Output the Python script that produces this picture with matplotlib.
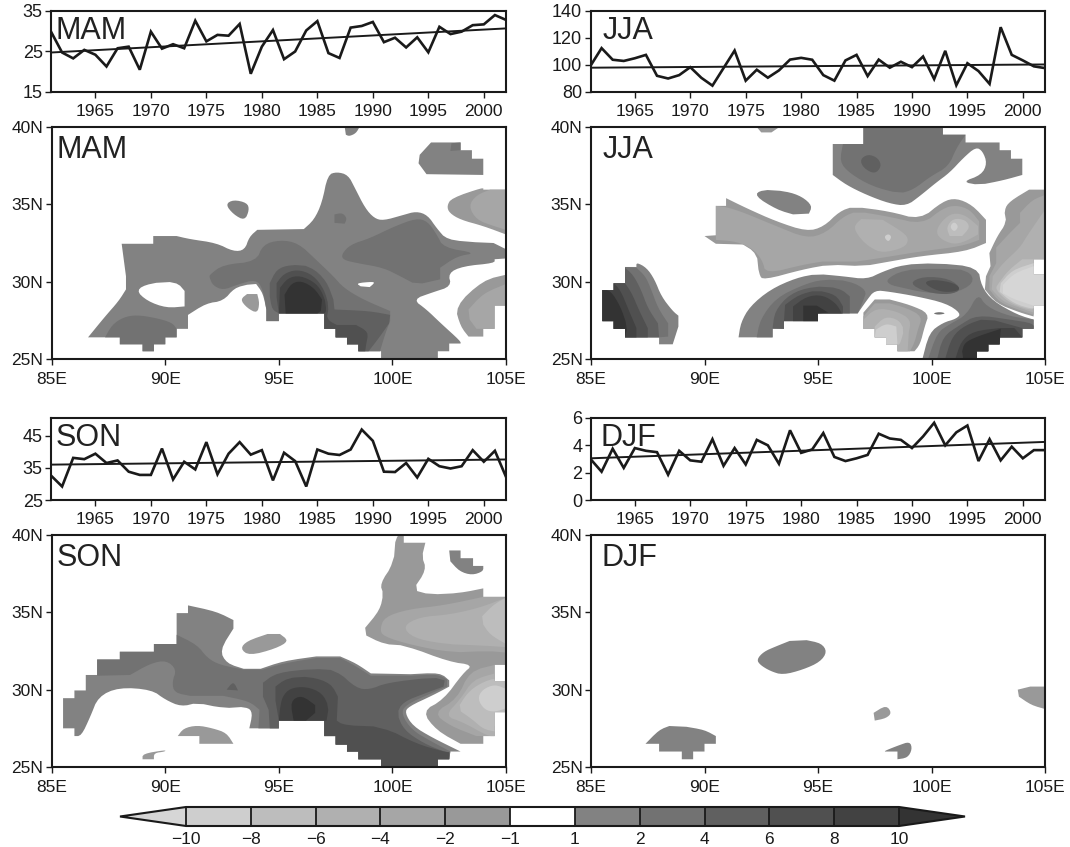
import matplotlib
matplotlib.use("Agg")
import matplotlib.pyplot as plt
from matplotlib.colors import ListedColormap, BoundaryNorm
from matplotlib.cm import ScalarMappable

plt.rcParams["font.family"] = ["Liberation Sans", "DejaVu Sans"]

W, H = 1070, 847

years = list(range(1961, 2003))
mam_series = [29.9, 24.75, 23.3, 25.4, 24.2, 21.3, 25.8, 26.2, 20.5, 29.9, 25.7, 26.8, 25.8, 32.6,
              27.5, 29.1, 28.9, 31.8, 19.5, 26.2, 30.3, 23.1, 25.0, 30.2, 32.5, 24.6, 23.4, 30.9,
              31.3, 32.3, 27.3, 28.4, 26.0, 28.5, 24.8, 31.1, 29.3, 29.9, 31.5, 31.7, 34.0, 32.8]
jja_series = [99.4, 112.5, 103.9, 103, 105, 107.5, 92, 90, 92.5, 98.4, 90.5, 84.7, 97.7, 110.7,
              88.4, 96.5, 90.6, 96, 104, 105.3, 103.9, 92.5, 88.4, 103.4, 107.5, 91.8, 104, 98,
              102.4, 98.4, 106.3, 89.6, 110.5, 85, 101.3, 95.5, 86, 128, 107.5, 103.4, 99, 97.7]
son_series = [32.6, 29.2, 38.1, 37.7, 39.4, 36.5, 37.3, 33.8, 32.8, 32.8, 41, 31.4, 36.9, 34.5,
              43, 33, 39.4, 43, 39.1, 40.5, 31.1, 39.7, 37.1, 29.2, 40.7, 39.4, 39, 40.7,
              46.9, 43.4, 33.8, 33.7, 36.5, 32, 37.8, 35.5, 34.8, 35.5, 40.5, 36.9, 40.3, 32.2]
djf_series = [3.0, 2.07, 3.75, 2.35, 3.8, 3.6, 3.5, 1.85, 3.6, 2.9, 2.8, 4.45, 2.5, 3.8,
              2.6, 4.4, 4.0, 2.65, 5.1, 3.45, 3.7, 4.9, 3.15, 2.85, 3.05, 3.3, 4.85, 4.5,
              4.4, 3.8, 4.65, 5.65, 4.0, 4.95, 5.45, 2.85, 4.45, 2.9, 3.9, 3.05, 3.65, 3.65]

# trend line ends, first and last year
mam_trend = [24.75, 30.7]
jja_trend = [98.0, 100.4]
son_trend = [36.0, 37.6]
djf_trend = [3.05, 4.25]

year_ticks = list(range(1965, 2001, 5))
lon_ticks = [85, 90, 95, 100, 105]
lat_ticks = [25, 30, 35, 40]

# shade per contour class, the key is the class named in the colour bar
shades = {-10: "#d6d6d6", -8: "#cecece", -6: "#bdbdbd", -4: "#b0b0b0", -2: "#a6a6a6", -1: "#999999",
          0: "#ffffff", 1: "#828282", 2: "#727272", 4: "#606060", 6: "#505050", 8: "#424242", 10: "#333333"}
bar_bounds = [-10, -8, -6, -4, -2, -1, 1, 2, 4, 6, 8, 10]
bar_colors = ["#cecece", "#bdbdbd", "#b0b0b0", "#a6a6a6", "#999999", "#ffffff",
              "#828282", "#727272", "#606060", "#505050", "#424242"]

# contour regions: (class, [(lon, lat), ...]), drawn in this order
mam_regions = [
    (1, [(86.6, 26.4), (87.35, 27.75), (87.95, 28.75), (88.27, 29.5), (88.27, 30.35), (88.08, 32.45), (89.47, 32.45),
         (89.47, 32.95), (90.5, 32.95), (91.08, 32.75), (92.25, 32.5), (93.0, 31.95), (93.5, 32.05), (93.7, 32.9),
         (94.05, 33.35), (96.1, 33.4), (96.55, 34.0), (96.9, 35.1), (97.15, 36.9), (97.55, 37.1), (98.05, 36.9),
         (98.35, 36.05), (98.8, 34.75), (99.2, 34.1), (99.6, 33.95), (100.45, 34.3), (101.05, 34.55), (101.55, 34.3),
         (101.95, 33.45), (102.4, 32.7), (103.65, 32.55), (104.45, 32.5), (105, 32.1), (105, 31.5), (104.5, 31.45),
         (104.5, 31.2), (103.1, 31), (102.45, 30.55), (102.6, 29.7), (101.75, 29.3), (100.9, 28.85), (101.5, 28.2),
         (102.1, 27.35), (103, 26.15), (103, 26), (102.5, 26), (102.5, 25.5), (102, 25.5), (102, 25), (99.5, 25),
         (99.5, 25.5), (98.5, 25.5), (98.5, 25.95), (98, 25.95), (98, 26.4), (97.5, 26.4), (97.5, 26.95), (97, 26.95),
         (97, 27.95), (95, 27.95), (95, 27.45), (94.45, 27.45), (94.45, 28.2), (94.3, 29.25), (94, 29.85), (93.6, 29.8),
         (93.05, 29.6), (92.55, 28.75), (91.8, 28.6), (91, 27.85), (91, 26.95), (90.5, 26.95), (90.5, 26.4), (90, 26.4),
         (90, 25.95), (89.5, 25.95), (89.5, 25.5), (89, 25.5), (89, 25.95), (88, 25.95), (88, 26.4)]),
    (0, [(88.7, 29.45), (89.3, 29.9), (90.5, 30), (90.85, 29.4), (90.85, 28.4), (90.05, 28.3), (89.2, 28.75)]),
    (0, [(98.4, 29.9), (99.15, 30), (99.2, 29.9), (99, 29.65), (98.6, 29.7)]),
    (1, [(97.9, 40), (98.55, 40), (98.4, 39.6), (98.1, 39.4), (97.95, 39.5)]),
    (1, [(101.7, 39), (103, 39), (103, 38.5), (103.5, 38.5), (103.5, 37.95), (104, 37.95), (104, 36.9), (101.5, 36.95),
         (101.15, 37.65), (101.2, 38.2)]),
    (2, [(102.6, 38.95), (103, 39), (103, 38.5), (102.55, 38.45)]),
    (1, [(92.65, 35), (93, 35.3), (93.6, 35.1), (93.7, 34.65), (93.5, 33.95), (93, 34.35)]),
    (-1, [(102.4, 34.9), (102.6, 35.4), (104, 36.1), (104, 35.95), (105, 35.95), (105, 33.05), (104, 33.6), (103, 34),
          (102.5, 34.45)]),
    (-2, [(103.35, 34.9), (103.7, 35.6), (104.3, 35.95), (105, 35.95), (105, 33.35), (104.45, 33.6), (103.7, 34)]),
    (-1, [(102.75, 28.4), (104, 30.1), (105, 30.45), (105, 28.45), (104.5, 28.45), (104.5, 26.95), (104, 26.95),
          (104, 26.45), (103.35, 26.45), (103, 27.1)]),
    (-2, [(103.35, 28.2), (104, 29.25), (105, 29.85), (105, 28.45), (104.5, 28.45), (104.5, 26.95), (103.7, 26.95),
          (103.4, 27.55)]),
    (-1, [(93.3, 28.85), (93.6, 29.2), (94.05, 29.2), (94.15, 28.6), (94.05, 27.95), (93.6, 28.3)]),
    (2, [(91.95, 30.45), (92.55, 31.1), (94, 31.3), (94.3, 32.4), (95.05, 32.7), (95.85, 32.5), (96.65, 31.4),
         (97.4, 30.35), (97.85, 29.6), (98.7, 28.85), (99.9, 28.1), (99.9, 27.45), (99.7, 26.7), (99.45, 25.5),
         (98.5, 25.5), (98.5, 25.95), (98, 25.95), (98, 26.4), (97.5, 26.4), (97.5, 26.95), (97, 26.95), (97, 27.95),
         (95, 27.95), (95, 27.45), (94.45, 27.45), (94.45, 28.2), (94.3, 29.5), (94, 30.15), (93.15, 29.8),
         (92.55, 29.45), (92.1, 29.75), (91.95, 30.25)]),
    (2, [(97.75, 31.75), (98.15, 32.4), (99, 32.8), (100.05, 33.55), (101.05, 34.1), (101.55, 33.9), (101.95, 33.05),
         (102.25, 32.2), (103.7, 31.85), (102.85, 31.65), (102.1, 30.9), (102.1, 30.15), (101.05, 29.8), (100.35, 30.35),
         (99.6, 30.9), (98.45, 31.2), (97.85, 31.4)]),
    (2, [(97.45, 34.35), (97.8, 34.45), (98, 34.1), (97.9, 33.75), (97.45, 33.8)]),
    (2, [(87.35, 26.4), (87.65, 27.2), (88.15, 27.7), (88.75, 27.85), (89.6, 27.65), (90.3, 27.35), (90.5, 26.95),
         (90.5, 26.4), (90, 26.4), (90, 25.95), (89.5, 25.95), (89.5, 25.5), (89, 25.5), (89, 25.95), (88, 25.95),
         (88, 26.4)]),
    (4, [(94.6, 29.9), (94.9, 30.8), (95.5, 31.1), (96.4, 31), (97.1, 30.05), (97.4, 28.85), (97.45, 28.2), (99, 28.1),
         (99.9, 27.85), (99.85, 27.3), (99.45, 26.45), (98.95, 25.5), (98.5, 25.5), (98.5, 25.95), (98, 25.95), (98, 26.4),
         (97.5, 26.4), (97.5, 26.95), (97, 26.95), (97, 27.95), (95, 27.95), (94.7, 28.2), (94.6, 29.05)]),
    (6, [(94.9, 29.9), (95.2, 30.5), (95.8, 30.8), (96.5, 30.45), (97, 29.5), (97.2, 28.4), (97.1, 27.55), (97.55, 27.2),
         (98.4, 27.2), (98.95, 26.75), (98.85, 26), (98.8, 25.5), (98.5, 25.5), (98.5, 25.95), (98, 25.95), (98, 26.4),
         (97.5, 26.4), (97.5, 26.95), (97, 26.95), (97, 27.95), (95, 27.95), (94.9, 29)]),
    (8, [(95.05, 29.6), (95.4, 30.25), (95.95, 30.4), (96.65, 29.9), (97, 29.05), (97.1, 28.1), (97, 27.95), (95, 27.95)]),
    (10, [(95.25, 29.15), (95.55, 29.9), (96, 30.05), (96.55, 29.6), (96.9, 28.85), (96.85, 28.1), (96.7, 27.95),
          (95.3, 27.95)]),
]

jja_regions = [
    (-1, [(92.3, 40), (93.3, 40), (92.95, 39.65), (92.5, 39.65)]),
    (1, [(95.65, 38.9), (97, 38.9), (97, 40), (100.5, 40), (100.5, 39.5), (101.5, 39.5), (101.5, 39), (103, 39), (103, 38.5),
         (103.5, 38.5), (103.5, 37.95), (104, 37.95), (104, 36.9), (103.15, 36.55), (102.1, 36.25), (101.35, 36.45),
         (102.2, 36.9), (102.45, 37.65), (102.25, 38.45), (101.95, 38.7), (101.4, 38), (100.8, 37.05), (100.2, 36.4),
         (99.5, 35.55), (98.9, 34.9), (98.15, 35.05), (97.15, 35.6), (96.25, 36.25), (95.65, 36.9), (95.65, 38.05)]),
    (2, [(96.1, 38.9), (97, 38.9), (97, 40), (100.5, 40), (100.5, 39.5), (101.5, 39.5), (101.1, 38.65), (100.75, 37.45),
         (99.95, 36.8), (99.2, 35.95), (98.6, 35.7), (97.4, 36.15), (96.4, 37), (95.95, 37.75)]),
    (4, [(96.85, 37.9), (97.2, 38.25), (97.65, 38), (97.8, 37.45), (97.5, 36.95), (97, 37.35)]),
    (1, [(92.2, 35.55), (92.5, 35.95), (93.6, 35.85), (94.3, 35.5), (94.75, 34.9), (94.6, 34.4), (93.9, 34.35),
         (93.2, 34.65)]),
    (-1, [(90.5, 34.9), (90.95, 34.9), (90.95, 35.4), (91.85, 34.75), (93.15, 33.9), (94.5, 33.25), (95.25, 33.55),
          (95.95, 34.55), (96.55, 34.85), (98.15, 34.55), (99.5, 34), (100.5, 35.2), (101.1, 35.4), (101.8, 34.95),
          (102.4, 34), (102.4, 32.5), (101.5, 31.95), (99.5, 31.65), (98.15, 31.3), (97, 31), (95.5, 31.1), (94.35, 30.8),
          (92.6, 30.1), (92.4, 30.45), (92.3, 31.85), (91.7, 32.4), (90.5, 32.45), (90, 32.95), (90.5, 33)]),
    (-2, [(90.5, 34.9), (91.25, 34.75), (93.15, 33.6), (94.5, 32.8), (95.35, 33.15), (96.1, 34.2), (96.7, 34.55),
          (98.15, 34.2), (99.6, 33.7), (100.5, 34.75), (101.1, 34.95), (101.7, 34.65), (102.1, 33.9), (102.1, 32.7),
          (101.35, 32.3), (99.5, 31.95), (97.85, 31.55), (96.7, 31.3), (95.2, 31.3), (94.35, 31.1), (92.7, 30.5),
          (92.55, 31.4), (92.1, 32.15), (91.4, 32.6), (90.5, 32.7)]),
    (-4, [(96.55, 33.55), (96.9, 34.05), (97.85, 34), (98.8, 33.15), (99, 32.7), (98.8, 32.2), (97.85, 31.85), (97.3, 32.2),
          (96.85, 32.8)]),
    (-4, [(100.2, 33.3), (100.5, 34), (100.95, 34.45), (101.5, 34.3), (102.05, 33.6), (102.05, 33.05), (101.5, 32.6),
          (100.95, 32.4), (100.35, 32.8)]),
    (-6, [(100.65, 33.5), (100.95, 34.1), (101.5, 34), (101.7, 33.5), (101.35, 32.95), (100.8, 32.95)]),
    (-8, [(97.9, 32.9), (98.1, 33.1), (98.25, 32.9), (98.1, 32.55)]),
    (-8, [(100.8, 33.55), (101, 33.9), (101.2, 33.55), (101, 33.2)]),
    (-1, [(103.2, 34.65), (103.45, 35.2), (104.3, 35.95), (105, 35.95), (105, 31.45), (104.5, 31.45), (104.5, 30.45),
          (105, 30.45), (105, 28.45), (104.5, 28.45), (104.5, 27.75), (103.9, 28), (102.85, 28.6), (102.35, 29.5),
          (102.4, 30.35), (102.6, 31), (102.55, 31.85), (102.9, 32.95), (103.3, 33.8)]),
    (-2, [(103.9, 34.45), (104.45, 35.3), (105, 35.6), (105, 31.45), (104.5, 31.45), (104.5, 30.45), (105, 30.45),
          (105, 28.45), (104.5, 28.45), (104.5, 27.85), (103.9, 28.15), (103, 28.65), (102.55, 29.5), (102.55, 30.35),
          (102.85, 31.2), (102.85, 32.2), (103.45, 33.15), (103.9, 33.8)]),
    (-4, [(105, 34.65), (105, 31.45), (104.5, 31.45), (104.5, 30.45), (105, 30.45), (105, 28.45), (104.5, 28.45), (104.5, 28),
          (103.9, 28.3), (103.15, 28.7), (102.65, 29.5), (102.7, 30.35), (103.15, 31.2), (103.9, 32.2), (104.2, 32.95)]),
    (-6, [(102.95, 29.9), (103.4, 30.75), (104, 31.45), (104.5, 31.45), (104.5, 30.45), (105, 30.45), (105, 28.45),
          (104.5, 28.45), (104.5, 28.1), (103.45, 28.6), (102.8, 29.5)]),
    (-8, [(103.05, 29.9), (103.55, 30.75), (104.5, 31.2), (104.5, 30.45), (105, 30.45), (105, 28.45), (104.5, 28.45),
          (104.5, 28.2), (103.6, 28.6), (103, 29.35)]),
    (-10, [(103.15, 29.8), (103.65, 30.55), (104.5, 31), (104.5, 30.45), (105, 30.45), (105, 28.45), (104.5, 28.45),
           (103.65, 28.85), (103.15, 29.25)]),
    (1, [(85.5, 29.45), (86, 29.45), (86, 29.9), (86.5, 29.9), (86.5, 30.95), (87, 30.95), (87, 31.25), (87.45, 30.9),
         (87.8, 30.15), (88.1, 29.05), (88.6, 28.1), (88.85, 27.8), (88.85, 27.1), (88.6, 25.95), (88, 25.95), (88, 26.4),
         (86.5, 26.4), (86.5, 26.95), (86, 26.95), (86, 27.45), (85.5, 27.45)]),
    (2, [(85.5, 29.45), (86, 29.45), (86, 29.9), (86.5, 29.9), (86.5, 30.95), (87, 30.9), (87.4, 30.35), (87.65, 29.5),
         (87.95, 28.3), (88.4, 27.3), (88.4, 26.45), (88, 26.4), (86.5, 26.4), (86.5, 26.95), (86, 26.95), (86, 27.45),
         (85.5, 27.45)]),
    (4, [(85.5, 29.45), (86, 29.45), (86, 29.9), (86.5, 29.9), (86.5, 30.9), (86.85, 30.45), (87.2, 29.5), (87.5, 28.3),
         (87.95, 27.3), (88, 26.4), (86.5, 26.4), (86.5, 26.95), (86, 26.95), (86, 27.45), (85.5, 27.45)]),
    (6, [(85.5, 29.45), (86, 29.45), (86, 29.9), (86.5, 29.9), (86.8, 29.25), (87.1, 28.2), (87.5, 27), (87.5, 26.4),
         (86.5, 26.4), (86.5, 26.95), (86, 26.95), (86, 27.45), (85.5, 27.45)]),
    (8, [(85.5, 29.45), (86, 29.45), (86, 29.9), (86.3, 29.45), (86.65, 28.2), (87, 27), (87, 26.4), (86.5, 26.4),
         (86.5, 26.95), (86, 26.95), (86, 27.45), (85.5, 27.45)]),
    (10, [(85.5, 29.45), (85.85, 29.45), (86.3, 28.4), (86.6, 27.1), (86.5, 26.4), (86.5, 26.95), (86, 26.95), (86, 27.45),
          (85.5, 27.45)]),
    (1, [(91.5, 26.4), (91.6, 27.35), (92, 28.4), (92.9, 29.5), (94.05, 30.25), (94.95, 30.5), (96.1, 30.35), (97.15, 30.15),
         (97.85, 30.65), (98.75, 31.1), (100.2, 31.2), (102.05, 30.95), (102.2, 29.7), (102.7, 28.75), (103.8, 27.85),
         (104.5, 27.55), (104.5, 26.95), (104, 26.95), (104, 26.4), (103, 26.4), (103, 25.95), (102.5, 25.95), (102.5, 25.5),
         (102, 25.5), (102, 25), (99.6, 25), (99.9, 26.7), (100.5, 27.35), (101.1, 27.6), (101.3, 27.95), (100.65, 28.6),
         (99.35, 29.05), (98.15, 29.35), (97.5, 29.45), (97.15, 28.8), (96.75, 27.95), (95, 27.95), (95, 27.45), (93.5, 27.45),
         (93.5, 26.95), (93, 26.95), (93, 26.4)]),
    (2, [(100.05, 27.95), (100.35, 28.05), (100.65, 27.95), (100.3, 27.85)]),
    (2, [(92.3, 26.4), (92.45, 27.55), (93.15, 28.95), (94.35, 29.8), (95.2, 30.15), (96.4, 30.05), (97.15, 29.45), (97, 28.8),
         (96.75, 27.95), (95, 27.95), (95, 27.45), (93.5, 27.45), (93.5, 26.95), (93, 26.95), (93, 26.4)]),
    (4, [(93, 27), (93.1, 28.1), (93.75, 29.2), (94.75, 29.7), (95.95, 29.6), (96.4, 29.05), (96.4, 27.95), (95, 27.95),
         (95, 27.45), (93.5, 27.45), (93.5, 26.95)]),
    (6, [(93.5, 27.45), (93.55, 28.5), (94.15, 29.15), (94.95, 29.45), (95.8, 29.15), (96.1, 28.4), (96.1, 27.95), (95, 27.95),
         (95, 27.45)]),
    (8, [(93.9, 27.45), (93.9, 28.4), (94.5, 29.05), (95.2, 29.15), (95.8, 28.6), (96.05, 27.95), (95, 27.95), (95, 27.45)]),
    (10, [(94.35, 27.45), (94.35, 28.45), (94.95, 28.45), (95.45, 28), (95, 27.95), (95, 27.45)]),
    (2, [(98, 30.15), (98.75, 30.75), (100.2, 30.85), (101.65, 30.75), (101.9, 29.9), (100.95, 29.2), (99.65, 29.3),
         (98.75, 29.6), (98.15, 29.8)]),
    (4, [(99, 29.9), (99.65, 30.35), (100.8, 30.2), (101.35, 29.5), (100.8, 29.15), (99.8, 29.3)]),
    (6, [(99.65, 29.95), (100.1, 30.15), (101.05, 29.9), (101.3, 29.45), (100.65, 29.3), (100.1, 29.5)]),
    (2, [(99.85, 25), (100.25, 26.7), (100.8, 27.25), (101.55, 27.85), (102.05, 29.25), (102.4, 28.4), (103.45, 27.75),
         (104.5, 27.55), (104.5, 26.95), (104, 26.95), (104, 26.4), (103, 26.4), (103, 25.95), (102.5, 25.95), (102.5, 25.5),
         (102, 25.5), (102, 25)]),
    (4, [(100.25, 25), (100.5, 26.45), (101.25, 27.2), (102, 27.85), (103.45, 27.55), (104.5, 27.3), (104.5, 26.95), (104, 26.95),
         (104, 26.4), (103, 26.4), (103, 25.95), (102.5, 25.95), (102.5, 25.5), (102, 25.5), (102, 25)]),
    (6, [(100.6, 25), (100.9, 26.45), (101.5, 27.2), (102.4, 27.65), (104, 27), (104, 26.4), (103, 26.4), (103, 25.95),
         (102.5, 25.95), (102.5, 25.5), (102, 25.5), (102, 25)]),
    (8, [(101.05, 25), (101.3, 26.15), (101.85, 26.8), (103, 27), (103.65, 27), (104, 26.4), (103, 26.4), (103, 25.95),
         (102.5, 25.95), (102.5, 25.5), (102, 25.5), (102, 25)]),
    (10, [(101.35, 25.5), (101.45, 26.05), (102, 26.45), (103.05, 26.95), (103, 25.95), (102.5, 25.95), (102.5, 25.5), (102, 25.5),
          (102, 25), (101.4, 25)]),
    (-1, [(97, 28), (97.5, 28.85), (98.15, 28.85), (99.05, 28.5), (99.9, 27.95), (99.7, 27.1), (99.5, 25.95), (99.25, 25.5),
          (98.5, 25.5), (98.5, 25.95), (98, 25.95), (98, 26.4), (97.5, 26.4), (97.5, 26.95), (97, 26.95)]),
    (-2, [(97, 27.75), (97.5, 28.6), (98.15, 28.6), (98.9, 28.3), (99.6, 27.75), (99.4, 26.9), (99.25, 26.05), (99.05, 25.5),
          (98.5, 25.5), (98.5, 25.95), (98, 25.95), (98, 26.4), (97.5, 26.4), (97.5, 26.95), (97, 26.95)]),
    (-4, [(97, 27.55), (97.55, 28.3), (98.45, 28.1), (99.1, 27.55), (99, 26.7), (98.95, 25.5), (98.5, 25.5), (98.5, 25.95),
          (98, 25.95), (98, 26.4), (97.5, 26.4), (97.5, 26.95), (97, 26.95)]),
    (-6, [(97.5, 27.1), (97.95, 27.75), (98.55, 27.55), (98.8, 26.9), (98.6, 25.9), (98.5, 25.95), (98, 25.95), (98, 26.4),
          (97.5, 26.4)]),
    (-8, [(97.55, 26.9), (98, 27.3), (98.45, 27.1), (98.5, 25.95), (98, 25.95), (98, 26.4), (97.5, 26.4)]),
]

son_regions = [
    (1, [(85.5, 29.45), (86, 29.45), (86, 29.95), (86.5, 29.95), (86.5, 30.95), (87, 30.95), (87, 31.95), (88, 31.95), (88, 32.45),
         (89.5, 32.45), (89.5, 32.95), (90.5, 32.95), (90.5, 34.95), (91, 34.95), (91, 35.45), (92.25, 35.05), (93, 34.5), (93, 33.95),
         (92.4, 32.55), (92.7, 31.7), (93.45, 31.35), (94.2, 31.35), (95.2, 31.85), (96.65, 32.15), (97.7, 32.15), (98.4, 31.7),
         (99.05, 31.05), (100.8, 31), (102.1, 31.1), (102.5, 30.6), (102.5, 30.2), (101.8, 29.65), (100.7, 28.9), (100.55, 28.5),
         (100.9, 27.65), (101.75, 26.9), (103, 26), (102.55, 26), (102.5, 25.5), (102, 25.5), (102, 25), (99.5, 25), (99.5, 25.5),
         (98.5, 25.5), (98.5, 26), (98, 26), (98, 26.45), (97.5, 26.45), (97.5, 27), (97, 27), (97, 28), (95, 28), (95, 27.5),
         (93.7, 27.5), (93.85, 28.5), (93.6, 28.9), (92.55, 28.8), (91.4, 29.15), (90.7, 28.9), (90, 29.35), (89.4, 30),
         (87.95, 30.15), (87.05, 29.55), (86.7, 28.25), (86.3, 27), (86, 27), (86, 27.5), (85.5, 27.5)]),
    (2, [(87, 30.9), (87, 31.95), (88, 31.95), (88, 32.45), (89.5, 32.45), (89.5, 32.95), (90.5, 32.95), (90.5, 33.55), (91.4, 32.9),
         (91.85, 32.05), (92.4, 31.6), (93.45, 31.3), (94.3, 31.3), (95.2, 31.7), (96.65, 32.05), (97.7, 32.05), (98.3, 31.6),
         (99.05, 30.9), (100.8, 30.9), (102, 31), (102.4, 30.65), (102.4, 30.2), (101.75, 29.8), (100.55, 29), (100.4, 28.4),
         (100.85, 27.4), (101.65, 26.7), (102.55, 26), (102.5, 25.5), (102, 25.5), (102, 25), (99.5, 25), (99.5, 25.5), (98.5, 25.5),
         (98.5, 26), (98, 26), (98, 26.45), (97.5, 26.45), (97.5, 27), (97, 27), (97, 28), (95, 28), (95, 27.5), (94.1, 27.5),
         (94.15, 28.7), (93.7, 29.25), (92.55, 29.6), (91.1, 29.6), (90.4, 29.8), (90.3, 30.5), (90.5, 31.3), (90.05, 31.9),
         (89.35, 31.7), (88.45, 30.95)]),
    (4, [(94.3, 30.45), (94.9, 31.1), (96.5, 31.35), (97.55, 31.25), (98.4, 30.1), (99, 30), (99.75, 30.45), (101.8, 30.8),
         (102.3, 30.6), (102.25, 30.2), (101.5, 29.8), (100.45, 29.2), (100.2, 28.45), (100.5, 27.4), (101.35, 26.55), (102.25, 26),
         (102.5, 25.95), (102.5, 25.5), (102, 25.5), (102, 25), (99.5, 25), (99.5, 25.5), (98.5, 25.5), (98.5, 26), (98, 26),
         (98, 26.45), (97.5, 26.45), (97.5, 27), (97, 27), (97, 28), (95, 28), (95, 27.5), (94.6, 27.5), (94.55, 28.7), (94.3, 29.55)]),
    (4, [(92.7, 30), (93, 30.55), (93.2, 29.95)]),
    (6, [(94.85, 30.2), (95.35, 30.75), (96.4, 30.85), (97.3, 30.4), (97.6, 29.55), (97.55, 28), (97.85, 27.7), (99.6, 27.6),
         (101.05, 26.5), (102.25, 26), (102.5, 25.95), (102.5, 25.5), (102, 25.5), (102, 25), (99.5, 25), (99.5, 25.5), (98.5, 25.5),
         (98.5, 26), (98, 26), (98, 26.45), (97.5, 26.45), (97.5, 27), (97, 27), (97, 28), (95, 28), (94.85, 29.3)]),
    (8, [(95.15, 29.55), (95.5, 30.1), (96.2, 30.2), (96.9, 29.8), (97.2, 28.9), (97.1, 28), (95, 28), (95.05, 28.75)]),
    (10, [(95.5, 29.25), (96, 29.65), (96.6, 29), (96.6, 28.5), (96.2, 28), (95.65, 28)]),
    (-1, [(93.3, 32.65), (93.6, 33.15), (94.5, 33.6), (95.05, 33.6), (95.45, 33.15), (94.85, 32.65), (93.7, 32.2)]),
    (-1, [(90.55, 27), (90.8, 27.5), (91.4, 27.7), (92.1, 27.5), (92.7, 27.2), (93, 26.5), (91.5, 26.5), (91.5, 27)]),
    (-1, [(89, 25.85), (90, 26.1), (90, 26), (89.5, 25.9), (89.5, 25.5), (89, 25.5)]),
    (1, [(102.5, 39), (103, 39), (103, 38.5), (103.55, 38.5), (103.55, 38), (104, 38), (104, 37.65), (103.5, 37.4), (102.95, 37.65),
         (102.55, 38.3)]),
    (-1, [(100.15, 40), (100.5, 40), (100.5, 39.5), (101.45, 39.5), (101.3, 38.6), (101.5, 37.75), (100.9, 36.45), (101.65, 36.15),
          (103, 36.25), (104, 36.55), (104, 36), (105, 36), (105, 31.6), (104.5, 31.6), (104.5, 30.55), (105, 30.55), (105, 28.55),
          (104.5, 28.55), (104.5, 27), (104, 27), (104, 26.5), (103, 26.5), (101.95, 27.35), (101.3, 28.6), (102.25, 29.35),
          (103.1, 31.05), (103.55, 31.6), (102.5, 31.8), (100.6, 32.85), (99.6, 32.95), (98.85, 33.5), (98.8, 34), (99.45, 35.15),
          (99.6, 36.2), (99.45, 36.85), (100.05, 38.15)]),
    (-2, [(99.45, 33.9), (99.65, 34.7), (100.7, 35.2), (102.25, 35.45), (104, 36), (105, 36), (105, 32.4), (104.2, 32.5),
          (102.55, 32.4), (100.8, 32.9), (99.6, 33.45)]),
    (-4, [(100.45, 34.1), (101.2, 34.7), (102.5, 34.85), (103.85, 35.3), (105, 35.95), (105, 32.75), (104, 32.85), (102.25, 32.95),
          (100.9, 33.35)]),
    (-6, [(103.95, 34.75), (104.45, 35.5), (105, 35.95), (105, 32.95), (104.3, 33.55), (104, 34.2)]),
    (-2, [(101.8, 28.5), (102.85, 29.4), (103.4, 31.2), (104.5, 31.6), (104.5, 30.55), (105, 30.55), (105, 28.55), (104.5, 28.55),
          (104.5, 27), (103.7, 27), (102.55, 27.65)]),
    (-4, [(102.3, 28.3), (103, 29.4), (103.55, 30.65), (104.5, 31.05), (104.5, 30.55), (105, 30.55), (105, 28.55), (104.5, 28.55),
          (104.5, 27), (104.2, 27), (103.1, 27.9)]),
    (-6, [(102.85, 28.75), (103.3, 29.8), (103.85, 30.4), (104.5, 30.75), (104.5, 30.55), (105, 30.55), (105, 28.55), (104.5, 28.55),
          (104.5, 27.3), (104, 27.45), (103.5, 28.1)]),
    (-6, [(103.35, 29.1), (103.7, 30), (104.5, 30.55), (105, 30.55), (105, 28.55), (104.5, 28.55), (104.5, 27.65), (103.95, 28.1)]),
    (-8, [(103.75, 29.4), (103.95, 30), (104.5, 30.35), (105, 30.05), (105, 28.8), (104.5, 28.55), (104.05, 28.7)]),
]

djf_regions = [
    (1, [(92.3, 31.95), (92.6, 32.45), (93.15, 32.8), (93.75, 33.15), (94.5, 33.2), (95.15, 33), (95.4, 32.45), (95.1, 31.8),
         (94.35, 31.3), (93.45, 30.95), (92.9, 31.2), (92.45, 31.6)]),
    (1, [(87.4, 26.5), (88, 27.4), (88.45, 27.65), (89.2, 27.6), (90, 27.4), (90.5, 27), (90.5, 26.5), (90, 26.5), (90, 26), (89.5, 26),
         (89.5, 25.5), (89, 25.5), (89, 26), (88, 26), (88, 26.5)]),
    (-1, [(97.45, 28.5), (98, 29), (98.25, 28.5), (98, 28.15), (97.5, 28)]),
    (1, [(97.95, 26.05), (98.55, 26.4), (99.05, 26.65), (99.15, 26.15), (98.95, 25.6), (98.5, 25.5), (98.5, 26), (97.95, 26)]),
    (-1, [(103.8, 30), (104.35, 30.2), (105, 30.2), (105, 28.75), (104.4, 29), (103.85, 29.55)]),
]


def px_axes(left, top, right, bottom):
    return fig.add_axes([left / W, 1 - bottom / H, (right - left) / W, (bottom - top) / H])


def is_grid_edge(a, b):
    # edges of the masked grid cells, these stay square
    dx, dy = abs(a[0] - b[0]), abs(a[1] - b[1])
    return max(dx, dy) >= 0.4 and min(dx, dy) <= 0.06


def round_corners(points, passes=2):
    # contour edges are curved in the picture, the grid mask is not
    for _ in range(passes):
        out = []
        for i, p in enumerate(points):
            a, b = points[i - 1], points[(i + 1) % len(points)]
            if is_grid_edge(a, p) or is_grid_edge(p, b):
                out.append(p)
            else:
                out.append((p[0] * 0.75 + a[0] * 0.25, p[1] * 0.75 + a[1] * 0.25))
                out.append((p[0] * 0.75 + b[0] * 0.25, p[1] * 0.75 + b[1] * 0.25))
        points = out
    return points


def season_label(ax, text, dx, dy):
    ax.annotate(text, xy=(0, 1), xycoords="axes fraction", xytext=(dx, -dy), textcoords="offset pixels",
                fontsize=22, va="top", ha="left", color="#222222")


def style(ax):
    for s in ax.spines.values():
        s.set_linewidth(1.5)
        s.set_color("#1a1a1a")
    ax.tick_params(axis="both", length=4, width=1, color="#1a1a1a", labelcolor="#1a1a1a")
    ax.tick_params(axis="x", labelsize=12.5, pad=5)
    ax.tick_params(axis="y", labelsize=13, pad=2)


def draw_series(box, series, trend, ylim, yticks, name, dx):
    ax = px_axes(*box)
    ax.plot(years, series, color="#1a1a1a", lw=1.9, solid_joinstyle="miter")
    ax.plot([years[0], years[-1]], trend, color="#1a1a1a", lw=1.4)
    ax.set_xlim(years[0], years[-1])
    ax.set_ylim(*ylim)
    ax.set_xticks(year_ticks)
    ax.set_yticks(yticks)
    style(ax)
    season_label(ax, name, dx, 5)


def draw_map(box, regions, name, dx):
    ax = px_axes(*box)
    for level, points in regions:
        pts = round_corners(points)
        ax.fill([p[0] for p in pts], [p[1] for p in pts], color=shades[level], lw=0)
    ax.set_xlim(85, 105)
    ax.set_ylim(25, 40)
    ax.set_xticks(lon_ticks)
    ax.set_xticklabels([f"{v}E" for v in lon_ticks])
    ax.set_yticks(lat_ticks)
    ax.set_yticklabels([f"{v}N" for v in lat_ticks])
    style(ax)
    ax.tick_params(axis="y", labelsize=12.5)
    season_label(ax, name, dx, 8)


fig = plt.figure(figsize=(W / 100, H / 100), dpi=100)

draw_series((51, 11, 506, 92), mam_series, mam_trend, (15, 35), [15, 25, 35], "MAM", 5)
draw_series((590.5, 11, 1045, 92), jja_series, jja_trend, (80, 140), [80, 100, 120, 140], "JJA", 12)
draw_series((51, 418, 506, 500), son_series, son_trend, (25, 50.5), [25, 35, 45], "SON", 5)
draw_series((590.5, 418, 1045, 500), djf_series, djf_trend, (0, 6), [0, 2, 4, 6], "DJF", 10)

draw_map((51.7, 127, 506, 359), mam_regions, "MAM", 5)
draw_map((591, 127, 1045, 359), jja_regions, "JJA", 12)
draw_map((51.7, 535, 506, 767), son_regions, "SON", 5)
draw_map((591, 535, 1045, 767), djf_regions, "DJF", 10)

# colour bar, the axes span the arrow tips and the boxes are evenly spaced
cax = px_axes(120, 807, 965, 826)
cmap = ListedColormap(bar_colors)
cmap.set_under(shades[-10])
cmap.set_over(shades[10])
norm = BoundaryNorm(bar_bounds, cmap.N)
cb = fig.colorbar(ScalarMappable(norm=norm, cmap=cmap), cax=cax, orientation="horizontal", extend="both",
                  spacing="uniform", extendfrac=0.0926, drawedges=True, ticks=bar_bounds)
cb.outline.set_linewidth(1.5)
cb.outline.set_edgecolor("#1a1a1a")
cb.dividers.set_linewidth(1.3)
cb.dividers.set_color("#1a1a1a")
cax.tick_params(length=0, labelsize=12.5, pad=4, labelcolor="#1a1a1a")

fig.savefig("out.png", dpi=100)
